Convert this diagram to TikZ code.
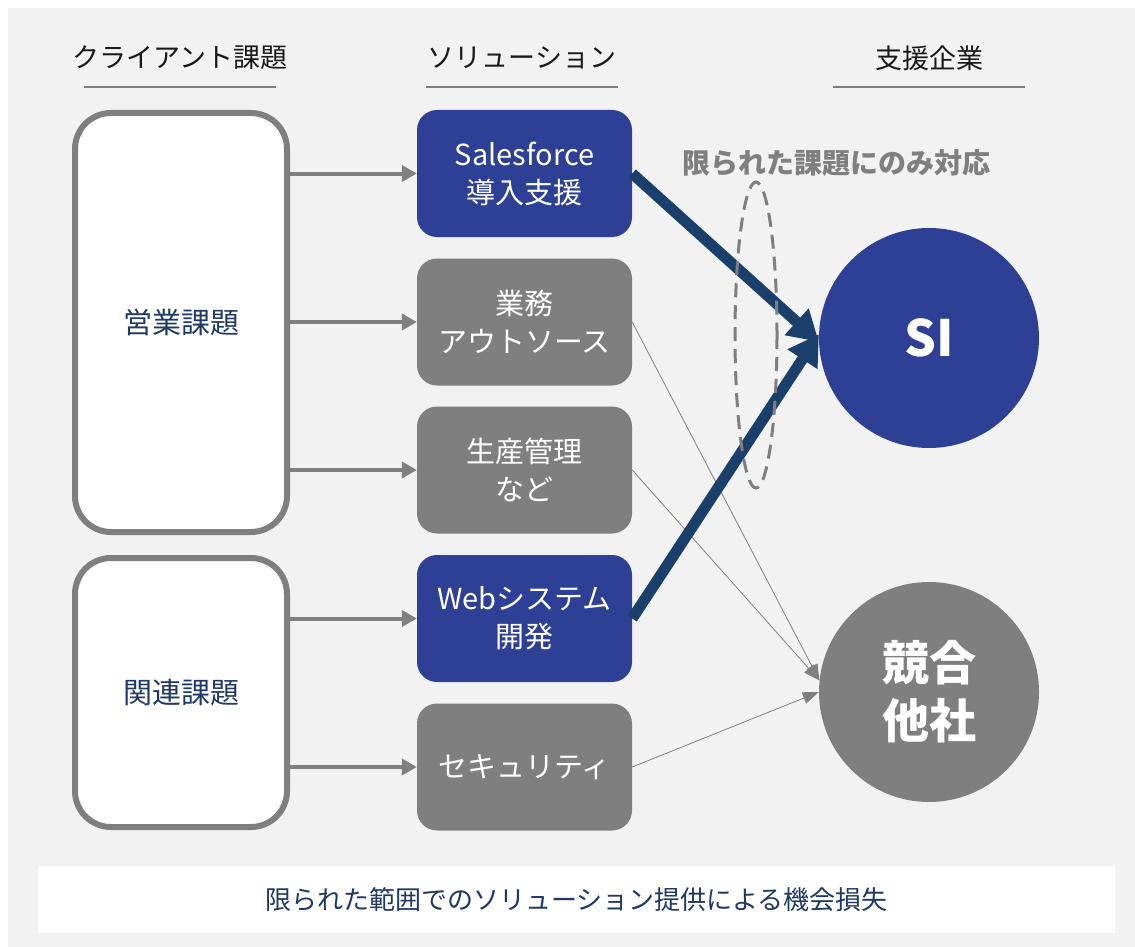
\documentclass[tikz,border=0pt]{standalone}
\usepackage{fontspec}
\setmainfont{Noto Sans CJK JP}
\usetikzlibrary{arrows.meta}
\definecolor{panelgray}{HTML}{F2F2F2}
\definecolor{siblue}{HTML}{2E3F96}
\definecolor{boxgray}{HTML}{7F7F7F}
\definecolor{textnavy}{HTML}{1F3864}
\definecolor{arrownavy}{HTML}{1A3F6B}

\begin{document}
\begin{tikzpicture}[x=1pt,y=-1pt,
        head/.style={font=\fontsize{27}{30}\selectfont, text=black!90},
        issue/.style={draw=boxgray, line width=6pt, fill=white, rounded corners=36pt, minimum width=212pt, text=textnavy, font=\fontsize{29}{32}\selectfont},
        sol/.style={rounded corners=20pt, minimum width=215pt, minimum height=127pt, inner sep=0pt, text=white, align=center, font=\fontsize{29}{38}\selectfont},
        firm/.style={circle, minimum size=220pt, inner sep=0pt, text=white, align=center},
        feed/.style={draw=boxgray, line width=4pt, -{Triangle[length=15pt,width=16pt]}},
        win/.style={draw=arrownavy, line width=11pt, -{Triangle[length=30pt,width=34pt]}},
        lost/.style={draw=boxgray, line width=0.8pt, -{Triangle[length=16pt,width=12pt]}}]
        \useasboundingbox (0,0) rectangle (1135,947);
        \fill[white] (0,0) rectangle (1135,947);
        \fill[panelgray] (8,8) rectangle (1135,947);

        % column heads
        \node[head] (hclient) at (180,58) {クライアント課題};
        \node[head] (hsol) at (522,58) {ソリューション};
        \node[head] (hfirm) at (929,58) {支援企業};
        \draw[boxgray, line width=2.5pt] (84,87) -- (276,87);
        \draw[boxgray, line width=2.5pt] (426,87) -- (618,87);
        \draw[boxgray, line width=2.5pt] (833,87) -- (1025,87);

        % client issues
        \node[issue, minimum height=419pt] (sales) at (181,322.5) {営業課題};
        \node[issue, minimum height=269pt] (rel) at (181,692.5) {関連課題};

        % solutions
        \node[sol, fill=siblue] (sf) at (524.5,173.5) {Salesforce\\導入支援};
        \node[sol, fill=boxgray] (bpo) at (524.5,322) {業務\\アウトソース};
        \node[sol, fill=boxgray] (prod) at (524.5,470) {生産管理\\など};
        \node[sol, fill=siblue] (web) at (524.5,618.5) {Webシステム\\開発};
        \node[sol, fill=boxgray] (sec) at (524.5,767) {セキュリティ};

        % vendors
        \node[firm, fill=siblue, font=\fontsize{50}{56}\selectfont\bfseries] (si) at (929,338) {SI};
        \node[firm, fill=boxgray, font=\fontsize{47}{58}\selectfont\bfseries] (rival) at (929,692) {競合\\他社};

        \draw[feed] (sales.east |- sf.west) -- (sf.west);
        \draw[feed] (sales.east |- bpo.west) -- (bpo.west);
        \draw[feed] (sales.east |- prod.west) -- (prod.west);
        \draw[feed] (rel.east |- web.west) -- (web.west);
        \draw[feed] (rel.east |- sec.west) -- (sec.west);

        \draw[lost] (bpo.east) -- (rival.174);
        \draw[lost] (prod.east) -- (rival.174);
        \draw[lost] (sec.east) -- (rival.west);

        \draw[win] (sf.east) -- (si.182);
        \draw[win] (web.east) -- (si.178);

        \draw[boxgray, line width=3pt, dash pattern=on 14pt off 8pt] (756,335) ellipse [x radius=21, y radius=153];
        \node[text=boxgray, font=\fontsize{28}{30}\selectfont\bfseries] (limit) at (836,163) {限られた課題にのみ対応};

        % bottom line
        \node[fill=white, minimum width=1077pt, minimum height=67pt, text=textnavy, font=\fontsize{26}{30}\selectfont] (loss) at (576.5,899.5) {限られた範囲でのソリューション提供による機会損失};
\end{tikzpicture}
\end{document}
